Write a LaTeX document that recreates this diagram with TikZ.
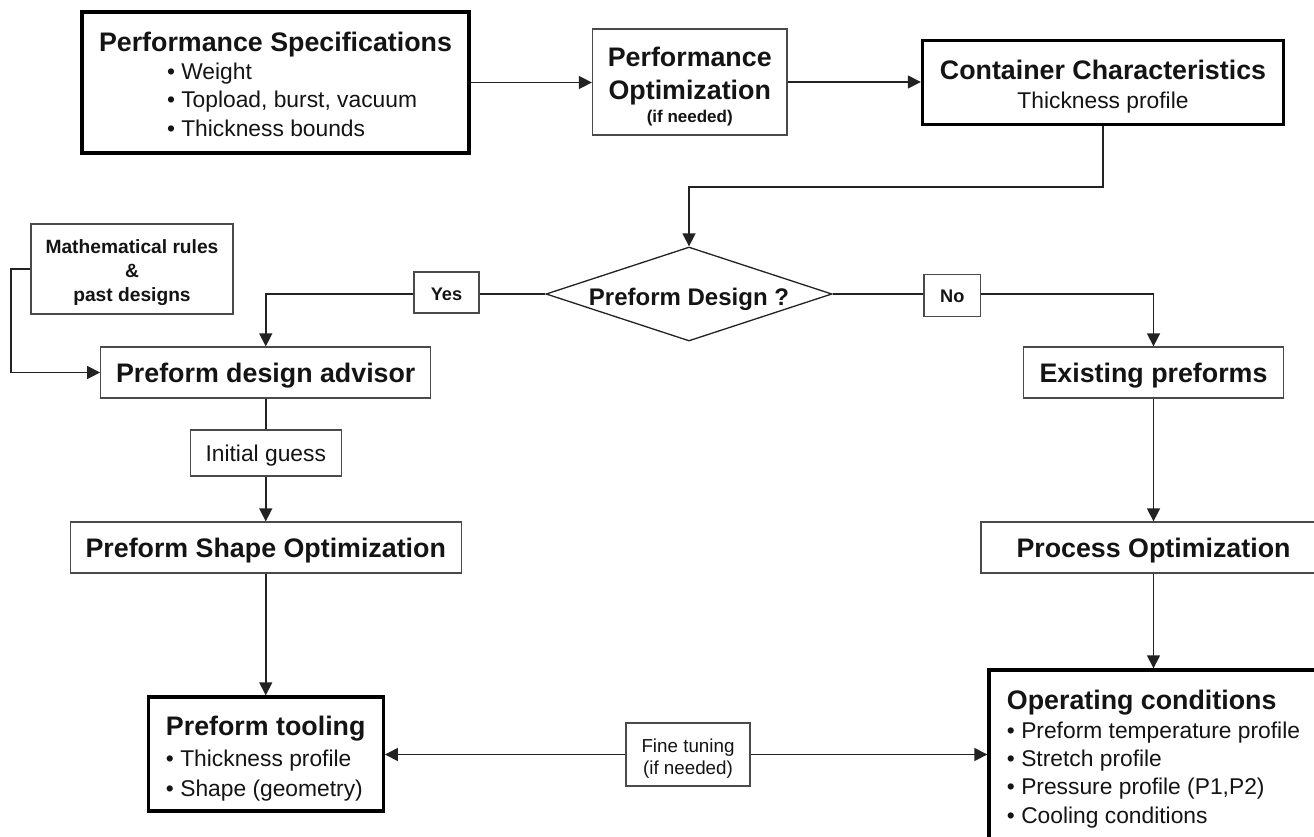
\documentclass[tikz,border=0pt]{standalone}
\usepackage{fontspec}
\setmainfont{Liberation Sans}
\usetikzlibrary{shapes.geometric,arrows.meta,calc}
\definecolor{boxc}{HTML}{4A4A4A}
\definecolor{linec}{HTML}{222222}
\definecolor{txt}{HTML}{141414}
\newcommand\fT{\fontsize{26.8}{28.6}\selectfont\bfseries}
\newcommand\fB{\fontsize{22.8}{28.4}\selectfont}
\newcommand\up[1]{\rule{0pt}{#1}}
\begin{document}
\begin{tikzpicture}[x=1pt,y=-1pt,
  box/.style={draw=boxc, line width=1.3pt, inner sep=0pt, align=center, text=txt},
  bbox/.style={draw=black, line width=3.4pt, inner sep=0pt, text=txt},
  conn/.style={draw=linec, line width=1.5pt},
  arr/.style={conn, -{Triangle[length=13pt,width=13pt]}},
  capT/.style={text height=19.2pt, text depth=0pt},
  capB/.style={text height=16.3pt, text depth=0pt}]
\useasboundingbox[fill=white] (0,0) rectangle (1314,836);

\node[bbox, minimum width=387pt, minimum height=141pt, align=left, font=\fB] (spec) at (275.5,82.5)
  {{\fT\up{22.8pt}Performance Specifications}\\ \hspace*{68pt}• Weight\\ \hspace*{68pt}• Topload, burst, vacuum\\ \hspace*{68pt}• Thickness bounds};
\node[box, minimum width=194.5pt, minimum height=106pt, font=\fontsize{26.8}{33}\selectfont\bfseries] (popt) at (689.75,82)
  {\up{28.6pt}Performance\\Optimization\\[-10.2pt]{\fontsize{17}{17}\selectfont\bfseries (if needed)}};
\node[bbox, minimum width=361pt, minimum height=84pt, align=center, font=\fB] (cont) at (1103,82.3)
  {{\fT\up{28pt}Container Characteristics}\\Thickness profile};

\node[draw=linec, line width=1.3pt, diamond, aspect=3.04, minimum width=286pt, minimum height=94pt,
  inner sep=0pt, text=txt, text height=22pt, text depth=0pt, font=\fontsize{24}{24}\selectfont\bfseries] (dia) at (689,294) {Preform Design ?};
\node[box, minimum width=65pt, minimum height=41pt, text height=16pt, text depth=0pt, font=\fontsize{18.2}{18.2}\selectfont\bfseries] (yes) at (446.5,292.5) {Yes};
\node[box, minimum width=56.5pt, minimum height=42pt, text height=13.5pt, text depth=0pt, font=\fontsize{18.2}{18.2}\selectfont\bfseries] (no) at (952.25,295.5) {No};

\node[box, minimum width=202pt, minimum height=90pt, font=\fontsize{19.2}{24.2}\selectfont\bfseries] (math) at (132,269)
  {\up{21.6pt}Mathematical rules\\\&\\past designs};
\node[box, minimum width=330pt, minimum height=51pt, capT, font=\fT] (adv) at (265.75,372.5) {Preform design advisor};
\node[box, minimum width=259.5pt, minimum height=51pt, capT, font=\fT] (exist) at (1153.5,372.5) {Existing preforms};
\node[box, minimum width=151pt, minimum height=46pt, capB, font=\fB] (guess) at (265.75,453) {Initial guess};
\node[box, minimum width=391pt, minimum height=51pt, capT, font=\fT] (pso) at (265.75,547.5) {Preform Shape Optimization};
\node[box, minimum width=345pt, minimum height=51pt, capT, font=\fT] (proc) at (1153.5,547.5) {Process Optimization};
\node[bbox, minimum width=235pt, minimum height=114pt, align=left, font=\fontsize{22.8}{30}\selectfont] (tool) at (265.75,754)
  {{\fT\up{29pt}Preform tooling}\\[1pt]• Thickness profile\\• Shape (geometry)};
\node[box, minimum width=124pt, minimum height=63pt, font=\fontsize{18.8}{22}\selectfont] (fine) at (688,754.5)
  {\up{22.5pt}Fine tuning\\(if needed)};
\node[bbox, minimum width=329pt, minimum height=175pt, align=left, font=\fB] (op) at (1153.5,757.5)
  {{\fT\up{22.6pt}Operating conditions}\\• Preform temperature profile\\• Stretch profile\\• Pressure profile (P1,P2)\\• Cooling conditions};

\draw[arr] (spec.east) -- (spec.east -| popt.west);
\draw[arr] (popt.east) -- (popt.east -| cont.west);
\draw[arr] (cont.south) -- ++(0,61) -| (dia.north);
\draw[conn] (dia.west) -- (dia.west -| yes.east);
\draw[arr] (yes.west |- dia.west) -| (adv.north);
\draw[conn] (dia.east) -- (dia.east -| no.west);
\draw[arr] (no.east |- dia.east) -| (exist.north);
\draw[arr] (math.west) -- ++(-19.5,0) |- (adv.west);
\draw[conn] (adv.south) -- (guess.north);
\draw[arr] (guess.south) -- (pso.north);
\draw[arr] (pso.south) -- (tool.north);
\draw[arr] (exist.south) -- (proc.north);
\draw[arr] (proc.south) -- (op.north);
\draw[arr] (fine.west) -- (fine.west -| tool.east);
\draw[arr] (fine.east) -- (fine.east -| op.west);
\end{tikzpicture}
\end{document}
